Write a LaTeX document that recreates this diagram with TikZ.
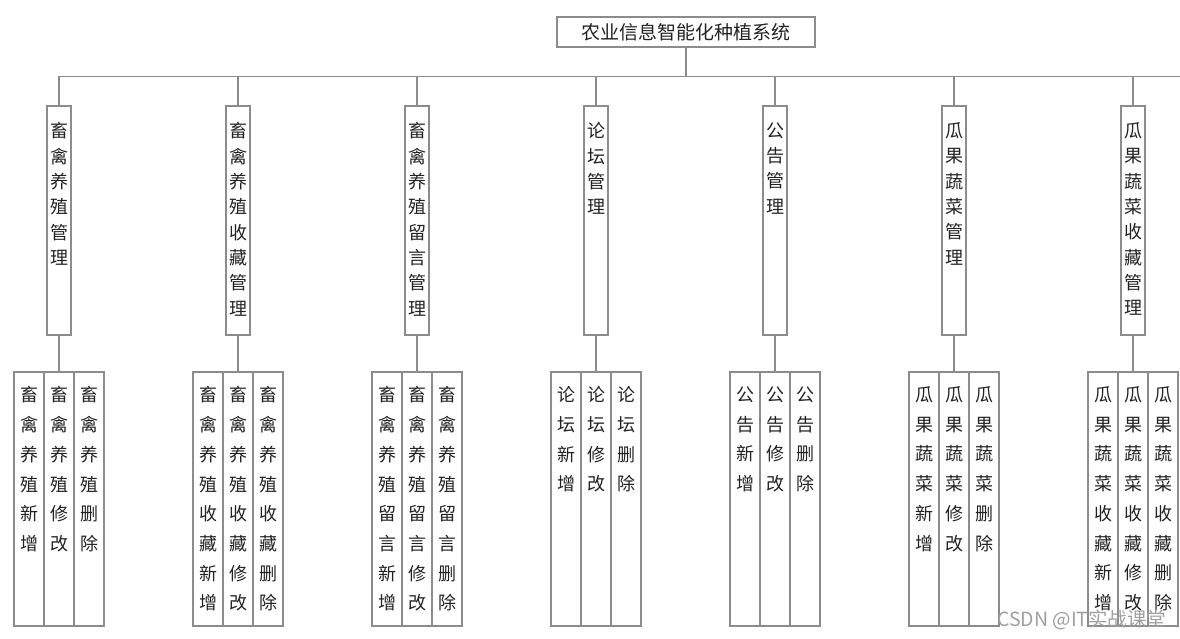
\documentclass[tikz,border=0pt]{standalone}
\usepackage{fontspec}
\newfontfamily\cjk{Noto Sans CJK SC}
\usetikzlibrary{positioning}
\definecolor{linegray}{HTML}{8C8C8C}
\definecolor{textgray}{HTML}{222222}

\tikzset{
  frame/.style={draw=linegray, line width=1.1pt, inner sep=0pt},
  conn/.style={draw=linegray, line width=1.1pt},
  vlabel/.style={anchor=north, align=center, inner sep=0pt, text=textgray},
}

\begin{document}
\begin{tikzpicture}[x=1pt, y=-1pt]
  \useasboundingbox (0,0) rectangle (1180,639);

  % System box
  \node[frame, minimum width=258pt, minimum height=30pt, text=textgray,
        font=\cjk\fontsize{19}{19}\selectfont] (sys) at (686,32) {农业信息智能化种植系统};

  % Bus line
  \coordinate (busl) at (59,76.5);
  \coordinate (busr) at (1180,76.5);
  \draw[conn] (busl) -- (busr);
  \draw[conn] (sys.south) -- (sys.south |- busl);

  % Modules and their sub functions
  \foreach \mod/\pre [count=\i] in {
      {畜\\禽\\养\\殖\\管\\理}/{畜\\禽\\养\\殖},
      {畜\\禽\\养\\殖\\收\\藏\\管\\理}/{畜\\禽\\养\\殖\\收\\藏},
      {畜\\禽\\养\\殖\\留\\言\\管\\理}/{畜\\禽\\养\\殖\\留\\言},
      {论\\坛\\管\\理}/{论\\坛},
      {公\\告\\管\\理}/{公\\告},
      {瓜\\果\\蔬\\菜\\管\\理}/{瓜\\果\\蔬\\菜},
      {瓜\\果\\蔬\\菜\\收\\藏\\管\\理}/{瓜\\果\\蔬\\菜\\收\\藏}} {
    \pgfmathsetmacro\cx{59+179*(\i-1)}
    \node[frame, minimum width=24pt, minimum height=229pt] (m\i) at (\cx,220.5) {};
    \node[vlabel, font=\cjk\fontsize{18}{25.3}\selectfont] (mt\i) at ([yshift=-17pt]m\i.north) {\mod};
    \draw[conn] (m\i.north) -- (m\i.north |- busl);
    \foreach \act [count=\j] in {{新\\增},{修\\改},{删\\除}} {
      \node[frame, minimum width=30pt, minimum height=254pt] (s\i-\j) at (\cx+30*\j-60,499) {};
      \node[vlabel, font=\cjk\fontsize{18}{29.7}\selectfont] (st\i-\j) at ([yshift=-15pt]s\i-\j.north) {\pre\\\act};
    }
    \draw[conn] (m\i.south) -- (s\i-2.north);
  }

  % Watermark
  \node[anchor=west, inner sep=0pt, text=gray!75, font=\cjk\fontsize{19.5}{19.5}\selectfont] (wm) at (997,620) {CSDN @IT实战课堂};
\end{tikzpicture}
\end{document}
